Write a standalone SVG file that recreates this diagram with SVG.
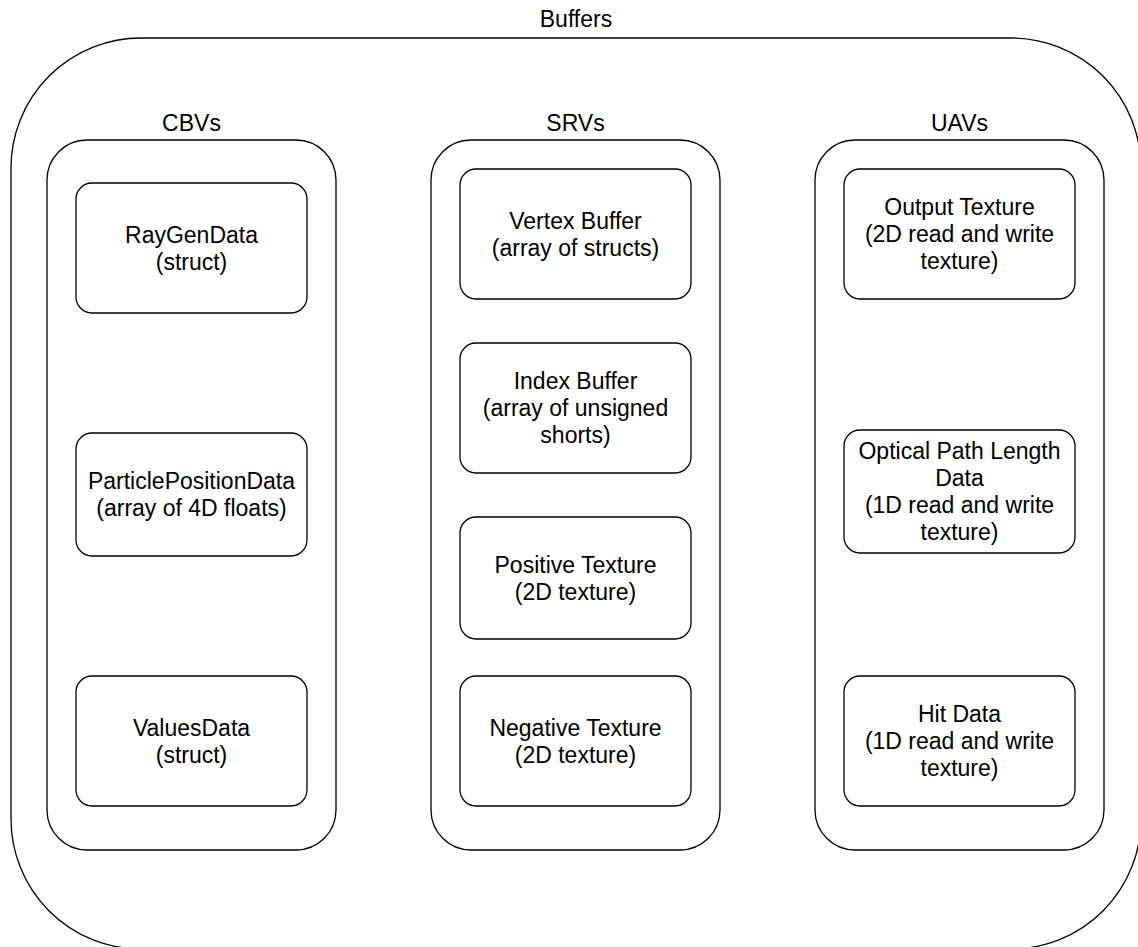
<svg xmlns="http://www.w3.org/2000/svg" width="1138" height="947" viewBox="0 0 1138 947">
<style>
  .box{fill:#ffffff;stroke:#000000;stroke-width:1.3}
  .grp{fill:none;stroke:#000000;stroke-width:1.3}
  text{font-family:"Liberation Sans",Arial,sans-serif;font-size:23px;fill:#000000;text-anchor:middle;dominant-baseline:central}
</style>
<rect width="1138" height="947" fill="#ffffff"/>
<g id="buffers">
  <rect class="grp" x="11" y="38" width="1130" height="911" rx="130" ry="130"/>
  <text x="576" y="19">Buffers</text>
</g>
<g id="cbvs">
  <rect class="grp" x="47" y="140" width="289" height="710" rx="40" ry="40"/>
  <text x="191.5" y="123">CBVs</text>
</g>
<g id="srvs">
  <rect class="grp" x="431" y="140" width="289" height="710" rx="40" ry="40"/>
  <text x="575.5" y="123">SRVs</text>
</g>
<g id="uavs">
  <rect class="grp" x="815" y="140" width="289" height="710" rx="40" ry="40"/>
  <text x="959.5" y="123">UAVs</text>
</g>
<g id="raygendata">
  <rect class="box" x="76" y="183" width="231" height="130" rx="16" ry="16"/>
  <text x="191.5" y="234.5">RayGenData</text>
  <text x="191.5" y="261.5">(struct)</text>
</g>
<g id="particlepositiondata">
  <rect class="box" x="76" y="433" width="231" height="123" rx="16" ry="16"/>
  <text x="191.5" y="481">ParticlePositionData</text>
  <text x="191.5" y="508">(array of 4D floats)</text>
</g>
<g id="valuesdata">
  <rect class="box" x="76" y="676" width="231" height="130" rx="16" ry="16"/>
  <text x="191.5" y="727.5">ValuesData</text>
  <text x="191.5" y="754.5">(struct)</text>
</g>
<g id="vertexbuffer">
  <rect class="box" x="460" y="169" width="231" height="130" rx="16" ry="16"/>
  <text x="575.5" y="220.5">Vertex Buffer</text>
  <text x="575.5" y="247.5">(array of structs)</text>
</g>
<g id="indexbuffer">
  <rect class="box" x="460" y="343" width="231" height="130" rx="16" ry="16"/>
  <text x="575.5" y="381">Index Buffer</text>
  <text x="575.5" y="408">(array of unsigned</text>
  <text x="575.5" y="435">shorts)</text>
</g>
<g id="positivetexture">
  <rect class="box" x="460" y="517" width="231" height="122" rx="16" ry="16"/>
  <text x="575.5" y="564.5">Positive Texture</text>
  <text x="575.5" y="591.5">(2D texture)</text>
</g>
<g id="negativetexture">
  <rect class="box" x="460" y="676" width="231" height="130" rx="16" ry="16"/>
  <text x="575.5" y="727.5">Negative Texture</text>
  <text x="575.5" y="754.5">(2D texture)</text>
</g>
<g id="outputtexture">
  <rect class="box" x="844" y="169" width="231" height="130" rx="16" ry="16"/>
  <text x="959.5" y="207">Output Texture</text>
  <text x="959.5" y="234">(2D read and write</text>
  <text x="959.5" y="261">texture)</text>
</g>
<g id="opticalpathlengthdata">
  <rect class="box" x="844" y="430" width="231" height="123" rx="16" ry="16"/>
  <text x="959.5" y="451">Optical Path Length</text>
  <text x="959.5" y="478">Data</text>
  <text x="959.5" y="505">(1D read and write</text>
  <text x="959.5" y="532">texture)</text>
</g>
<g id="hitdata">
  <rect class="box" x="844" y="676" width="231" height="130" rx="16" ry="16"/>
  <text x="959.5" y="714">Hit Data</text>
  <text x="959.5" y="741">(1D read and write</text>
  <text x="959.5" y="768">texture)</text>
</g>
<g id="connectors"></g>
</svg>
